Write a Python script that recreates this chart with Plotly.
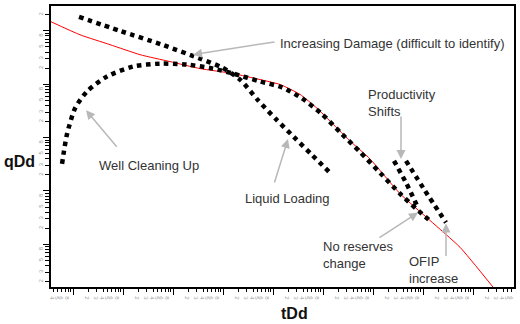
import plotly.graph_objects as go

# ---- data (log-log axes) ----
red_t = [3.63e-5, 1.38e-4, 5.50e-4, 2.19e-3, 8.71e-3, 0.0347, 0.158, 0.550, 1.38, 3.47,
         7.59, 19.1, 34.7, 87.1, 347, 1380, 5500, 25100]
red_q = [14.8, 8.43, 5.50, 3.57, 2.65, 1.96, 1.585, 1.22, 0.989, 0.644,
         0.354, 0.150, 0.0861, 0.0398, 0.00889, 0.00280, 0.000879, 0.000158]

clean_t = [6.03e-5, 6.61e-5, 7.59e-5, 1.10e-4, 1.91e-4, 4.79e-4, 1.58e-3, 5.50e-3, 0.0191,
           0.0631, 0.158, 0.550, 1.51, 3.80, 9.55, 24.0, 55.0, 138, 347, 724, 1510]
clean_q = [0.0321, 0.0561, 0.116, 0.354, 0.733, 1.393, 2.14, 2.43, 2.33,
           1.96, 1.585, 1.125, 0.871, 0.543, 0.274, 0.116, 0.0537, 0.0219, 0.00889, 0.00468, 0.00256]

damage_t = [1.32e-4, 8.71e-4, 6.03e-3, 0.0347, 0.0955, 0.219, 0.501, 1.148, 2.63, 6.03, 13.8]
damage_q = [18.2, 10.0, 5.50, 3.01, 2.05, 1.22, 0.499, 0.221, 0.102, 0.0472, 0.0219]

shift1_t = [263, 457, 794]
shift1_q = [0.0366, 0.01422, 0.00488]

shift2_t = [457, 1096, 2884]
shift2_q = [0.0366, 0.0101, 0.00256]

x_minor_labels = {2: "2", 3: "3", 4: "4", 5: "5", 6: "6", 8: "8"}
y_minor_labels = {2: "2", 3: "3", 5: "5", 8: "8"}

# ---- layout geometry ----
W, H = 520, 324
L, R, T, B = 51, 514, 4, 287


def px(x):
    return (x - L) / (R - L)


def py(y):
    return (B - y) / (B - T)


fig = go.Figure()

dot_line = dict(color="black", width=4.5, dash="4.5px,4.5px", shape="spline", smoothing=0.7)

fig.add_trace(go.Scatter(x=red_t, y=red_q, mode="lines",
                         line=dict(color="#ff0000", width=1, shape="spline", smoothing=0.5)))
for tt, qq in [(clean_t, clean_q), (damage_t, damage_q), (shift1_t, shift1_q), (shift2_t, shift2_q)]:
    fig.add_trace(go.Scatter(x=tt, y=qq, mode="lines", line=dot_line))

# ticks
xtv, xtt = [], []
for d in range(-5, 5):
    for k in range(2, 10):
        xtv.append(k * 10 ** d)
        xtt.append(x_minor_labels.get(k, ""))
ytv, ytt = [], []
for d in range(-4, 2):
    for k in range(2, 10):
        ytv.append(k * 10 ** d)
        ytt.append(y_minor_labels.get(k, ""))

tick_font = dict(family="Arial", size=6, color="#a0a0a0")

fig.update_layout(
    width=W, height=H,
    margin=dict(l=L, r=W - R, t=T, b=H - B),
    paper_bgcolor="white", plot_bgcolor="white",
    showlegend=False,
    xaxis=dict(type="log", range=[-4.44, 4.82], showgrid=False, zeroline=False,
               showline=True, linecolor="black", linewidth=2, mirror=True,
               tickmode="array", tickvals=xtv, ticktext=xtt, ticks="outside",
               ticklen=3, tickwidth=1, tickcolor="black", tickfont=tick_font,
               minor=dict(dtick=1, ticks="outside", ticklen=6, tickcolor="black", showgrid=False)),
    yaxis=dict(type="log", range=[-3.8, 1.465], showgrid=False, zeroline=False,
               showline=True, linecolor="black", linewidth=2, mirror=True,
               tickmode="array", tickvals=ytv, ticktext=ytt, ticks="outside",
               ticklen=4, tickwidth=1, tickcolor="black", tickfont=tick_font, tickangle=-90,
               minor=dict(dtick=1, ticks="outside", ticklen=6, tickcolor="black", showgrid=False)),
)

txt_font = dict(family="Arial", size=13, color="#333333")
texts = [
    ("Increasing Damage (difficult to identify)", 278, 42),
    ("Productivity<br>Shifts", 366, 102),
    ("Well Cleaning Up", 97, 165),
    ("Liquid Loading", 243, 198),
    ("No reserves<br>change", 321, 255),
    ("OFIP<br>increase", 407, 270),
]
for s, x, y in texts:
    fig.add_annotation(text=s, xref="paper", yref="paper", x=px(x), y=py(y),
                       xanchor="left", yanchor="middle", showarrow=False, align="left",
                       font=txt_font)

arrows = [
    ((276, 40), (193, 53)),
    ((118, 147), (86, 109)),
    ((274, 183), (288, 138)),
    ((401, 114), (401, 158)),
    ((378, 238), (418, 212)),
    ((446, 257), (446, 223)),
]
for (tx, ty), (hx, hy) in arrows:
    fig.add_annotation(text="", xref="paper", yref="paper", x=px(hx), y=py(hy),
                       ax=tx - hx, ay=ty - hy, showarrow=True, arrowhead=2, arrowsize=1.2,
                       arrowwidth=1.5, arrowcolor="#b8b8b8")

fig.add_annotation(text="<b>qDd</b>", xref="paper", yref="paper", x=px(20), y=py(161),
                   xanchor="center", yanchor="middle", showarrow=False,
                   font=dict(family="Arial", size=16, color="#111111"))
fig.add_annotation(text="<b>tDd</b>", xref="paper", yref="paper", x=px(294), y=py(314),
                   xanchor="center", yanchor="middle", showarrow=False,
                   font=dict(family="Arial", size=16, color="#111111"))

fig.write_html("out.html")
